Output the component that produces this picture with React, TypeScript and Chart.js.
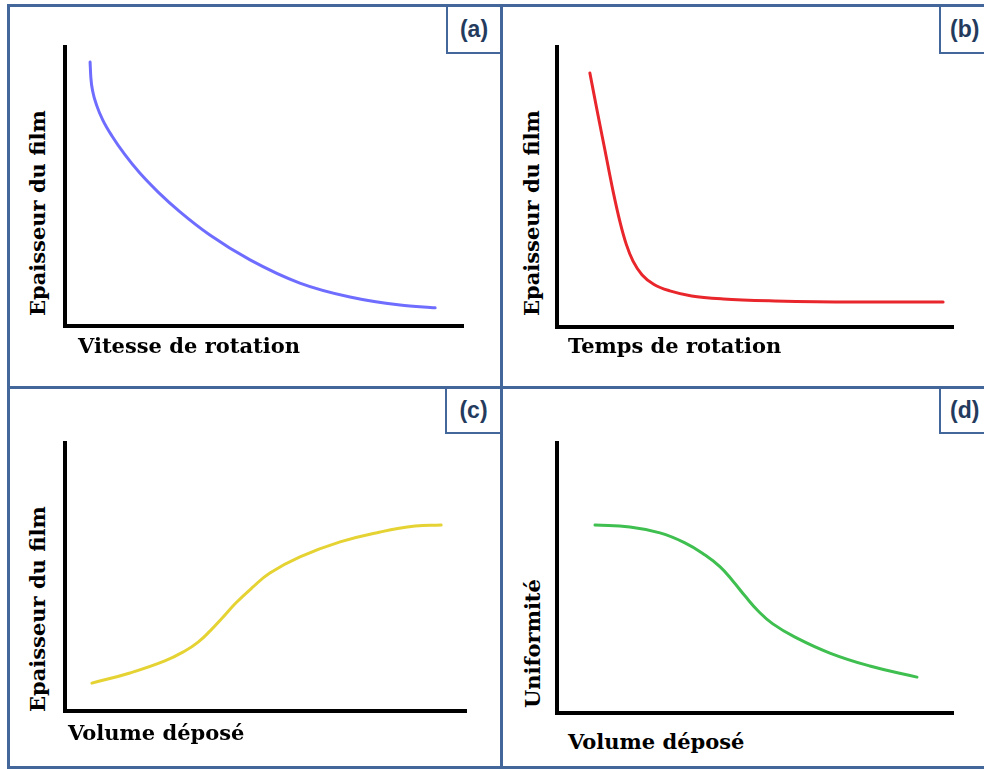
import React, { useEffect, useRef } from "react";
import { Chart, registerables } from "chart.js";

Chart.register(...registerables);

// (a) Epaisseur du film vs Vitesse de rotation
const speedA = [6.3, 6.5, 7.0, 8.0, 9.5, 11.8, 15.1, 18.8, 23.4, 28.9, 36.4, 46.5, 59.0, 71.6, 84.2, 93.0];
const thicknessA = [94.6, 88.9, 83.9, 78.9, 73.8, 68.1, 61.3, 54.8, 48.0, 40.9, 32.6, 23.7, 15.4, 10.4, 7.5, 6.5];

// (b) Epaisseur du film vs Temps de rotation
const timeB = [8.3, 10.1, 12.1, 14.1, 16.0, 17.5, 19.2, 21.5, 24.5, 28.5, 34.0, 42.0, 55.0, 75.0, 97.5];
const thicknessB = [90.7, 77.5, 63.2, 48.9, 37.0, 29.5, 23.5, 18.6, 15.2, 12.9, 11.1, 10.0, 9.3, 8.9, 8.9];

// (c) Epaisseur du film vs Volume déposé
const volumeC = [6.7, 16.2, 24.9, 29.9, 33.2, 36.2, 39.2, 42.6, 46.6, 51.1, 58.6, 68.6, 78.6, 87.3, 93.8];
const thicknessC = [10.4, 14.2, 18.7, 22.4, 25.7, 29.9, 34.7, 40.3, 45.9, 51.5, 57.5, 63.1, 66.8, 69.0, 69.4];

// (d) Uniformité vs Volume déposé
const volumeD = [9.6, 18.4, 26.0, 32.3, 37.4, 41.2, 44.4, 47.5, 50.8, 54.5, 60.1, 68.9, 79.0, 90.9];
const uniformityD = [69.6, 68.9, 66.7, 63.0, 58.5, 54.1, 48.9, 43.3, 37.8, 33.0, 28.1, 22.2, 17.4, 13.3];

const panelLabels = ["(a)", "(b)", "(c)", "(d)"];
const xTitles = ["Vitesse de rotation", "Temps de rotation", "Volume déposé", "Volume déposé"];
const yTitles = ["Epaisseur du film", "Epaisseur du film", "Epaisseur du film", "Uniformité"];

const M = 10;
const FRAME = "#44679b";
const TITLE_FONT = "'DejaVu Serif', 'Liberation Serif', serif";

type PanelProps = {
  xs: number[];
  ys: number[];
  color: string;
  box: [number, number, number, number];
  monotone?: boolean;
};

function Panel({ xs, ys, color, box, monotone }: PanelProps) {
  const ref = useRef<HTMLCanvasElement | null>(null);
  const [L, T, R, B] = box;
  const w = R - L + 2 * M;
  const h = B - T + 2 * M;
  useEffect(() => {
    const axis = {
      type: "linear" as const,
      min: 0,
      max: 100,
      grid: { display: false, drawTicks: false },
      ticks: { display: false },
      border: { display: true, color: "#000", width: 4 },
    };
    const chart = new Chart(ref.current as HTMLCanvasElement, {
      type: "line",
      data: {
        datasets: [
          {
            data: xs.map((x, i) => ({ x, y: ys[i] })),
            borderColor: color,
            borderWidth: 3,
            pointRadius: 0,
            cubicInterpolationMode: monotone ? "monotone" : "default",
            tension: 0.45,
            fill: false,
            borderCapStyle: "round",
            borderJoinStyle: "round",
          },
        ],
      },
      options: {
        responsive: false,
        animation: false,
        devicePixelRatio: 1,
        layout: { padding: M },
        plugins: { legend: { display: false }, tooltip: { enabled: false } },
        scales: { x: axis, y: axis },
      },
    } as any);
    return () => chart.destroy();
  }, []);
  return (
    <canvas
      ref={ref}
      width={w}
      height={h}
      style={{ position: "absolute", left: L - M, top: T - M, width: w, height: h }}
    />
  );
}

const line = (left: number, top: number, width: number, height: number): React.CSSProperties => ({
  position: "absolute",
  left,
  top,
  width,
  height,
  background: FRAME,
});

const labelStyle: React.CSSProperties = {
  position: "absolute",
  borderLeft: `2px solid ${FRAME}`,
  borderBottom: `2px solid ${FRAME}`,
  display: "flex",
  alignItems: "center",
  fontFamily: "'Liberation Sans', Arial, sans-serif",
  fontWeight: "bold",
  fontSize: 23,
  color: "#243b5e",
  whiteSpace: "nowrap",
  boxSizing: "border-box",
};

function LabelBox({ left, top, height, text }: { left: number; top: number; height: number; text: string }) {
  return (
    <div style={{ ...labelStyle, left, top, width: 500 - left, height, justifyContent: "center" }}>
      {text}
    </div>
  );
}

function LabelBoxRight({ left, top, height, text }: { left: number; top: number; height: number; text: string }) {
  return (
    <div style={{ ...labelStyle, left, top, width: 60, height, paddingLeft: 9 }}>
      {text}
    </div>
  );
}

const titleStyle: React.CSSProperties = {
  position: "absolute",
  fontFamily: TITLE_FONT,
  fontWeight: "bold",
  fontSize: 21,
  lineHeight: "22px",
  color: "#000",
  whiteSpace: "nowrap",
};

function XTitle({ left, top, text }: { left: number; top: number; text: string }) {
  return <div style={{ ...titleStyle, left, top }}>{text}</div>;
}

function YTitle({ left, top, text }: { left: number; top: number; text: string }) {
  return (
    <div style={{ ...titleStyle, left, top, transformOrigin: "0 0", transform: "rotate(-90deg)" }}>
      {text}
    </div>
  );
}

export default function App() {
  return (
    <div
      style={{
        position: "fixed",
        left: 0,
        top: 0,
        width: 984,
        height: 769,
        background: "#fff",
        overflow: "hidden",
      }}
    >
      {/* frame */}
      <div style={line(7, 4, 990, 3)} />
      <div style={line(7, 4, 3, 768)} />
      <div style={line(7, 766, 990, 3)} />
      <div style={line(500, 4, 3, 768)} />
      <div style={line(7, 386, 990, 3)} />

      <LabelBox left={446} top={6} height={48} text={panelLabels[0]} />
      <LabelBoxRight left={939} top={6} height={48} text={panelLabels[1]} />
      <LabelBox left={445} top={388} height={46} text={panelLabels[2]} />
      <LabelBoxRight left={939} top={388} height={46} text={panelLabels[3]} />

      <Panel xs={speedA} ys={thicknessA} color="#6f6dff" box={[65, 47, 463, 326]} monotone />
      <Panel xs={timeB} ys={thicknessB} color="#e8262b" box={[557, 47, 953, 327]} monotone />
      <Panel xs={volumeC} ys={thicknessC} color="#e5d233" box={[65, 443, 466, 711]} />
      <Panel xs={volumeD} ys={uniformityD} color="#3fbf4f" box={[557, 443, 953, 713]} />

      <XTitle left={78} top={335} text={xTitles[0]} />
      <XTitle left={568} top={335} text={xTitles[1]} />
      <XTitle left={68} top={722} text={xTitles[2]} />
      <XTitle left={568} top={731} text={xTitles[3]} />

      <YTitle left={27} top={316} text={yTitles[0]} />
      <YTitle left={521} top={316} text={yTitles[1]} />
      <YTitle left={27} top={712} text={yTitles[2]} />
      <YTitle left={522} top={708} text={yTitles[3]} />
    </div>
  );
}
